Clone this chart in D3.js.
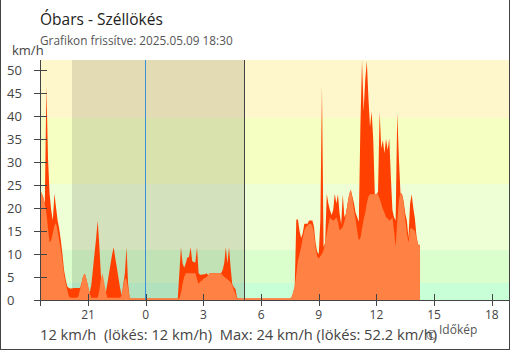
<!DOCTYPE html>
<html>
<head>
<meta charset="utf-8">
<script src="https://cdn.jsdelivr.net/npm/d3@7"></script>
<style>
  html, body { margin: 0; padding: 0; background: #fff; }
  svg { display: block; font-family: "Open Sans", "Noto Sans", sans-serif; }
</style>
</head>
<body>
<svg id="chart" width="510" height="350"></svg>
<script>
// Station and labels
const stationName = "Óbars";
const chartTitle = stationName + " - Széllökés";
const updatedText = "Grafikon frissítve: 2025.05.09 18:30";
const unitLabel = "km/h";
const creditText = "Időkép";

// Time frame (local wall-clock times kept as UTC values)
const windowStart = new Date(Date.UTC(2025, 4, 8, 18, 30));
const windowEnd = new Date(Date.UTC(2025, 4, 9, 19, 0));
const stepMinutes = 5;
const sunset = new Date(Date.UTC(2025, 4, 8, 20, 10));
const sunrise = new Date(Date.UTC(2025, 4, 9, 5, 7));
const midnight = new Date(Date.UTC(2025, 4, 9, 0, 0));

// Average wind speed, km/h, one value per 5 minutes from 18:30 (one row = one hour)
const avgKmh = [
  23.9, 23.2, 22.4, 21, 19, 15.5, 12.5, 13, 14.5, 16.2, 16.8, 15,
  13, 11, 8.5, 5.5, 3.8, 2.2, 0.8, 0.5, 0.5, 0.5, 0.5, 0.5,
  0.8, 2.3, 3.8, 5.3, 5.7, 4.5, 3, 1.5, 0.5, 0.5, 0.5, 0.5,
  0.5, 2, 4.5, 5.8, 4, 2, 0.5, 0.5, 0.5, 0.5, 0.5, 0.5,
  0.5, 0.5, 0.5, 1, 3, 4.8, 4.5, 2.5, 0.5, 0.3, 0.3, 0.3,
  0.3, 0.3, 0.3, 0.3, 0.3, 0.3, 0.3, 0.3, 0.3, 0.3, 0.3, 0.3,
  0.3, 0.3, 0.3, 0.3, 0.3, 0.3, 0.3, 0.3, 0.3, 0.3, 0.3, 0.3,
  0.3, 0.3, 0.3, 0.3, 1.5, 3.5, 5, 5.8, 5.8, 5.8, 5.8, 5.8,
  5.8, 5.8, 4.5, 3.5, 4, 4.2, 4.6, 4.8, 5, 5.4, 5.8, 5.8,
  5.8, 5.8, 5.8, 5.8, 5.8, 5.8, 5.4, 5, 4.8, 4.5, 4.2, 3.9,
  3.2, 2.2, 1.2, 0.3, 0.3, 0.3, 0.3, 0.3, 0.3, 0.3, 0.3, 0.3,
  0.3, 0.3, 0.3, 0.3, 0.3, 0.3, 0.3, 0.3, 0.3, 0.3, 0.3, 0.3,
  0.3, 0.3, 0.3, 0.3, 0.3, 0.3, 0.3, 0.3, 0.3, 0.3, 0.3, 0.3,
  0.3, 0.6, 1.5, 3, 5.7, 8.6, 10, 11.5, 13.5, 15.1, 15.9, 16.2,
  16.6, 16.6, 16.2, 14.5, 11.5, 9.5, 9, 9.5, 10, 10.8, 12.5, 14.4,
  16.5, 18, 17.5, 17.3, 17.5, 18, 17, 15.1, 15.5, 15.9, 17, 18.8,
  21, 23, 24, 22, 19.5, 17.5, 15, 13, 13.5, 15.5, 17.5, 19,
  21, 22.5, 23, 23, 23, 23, 23, 23, 22, 21, 19.8, 19,
  18, 17.7, 17.3, 17.5, 18, 15, 11.5, 17, 21.5, 23.3, 22.8, 21,
  17.5, 14.5, 12.5, 15.5, 15.6, 15.3, 15.1, 13.5, 12, 12
];

// Gusts, km/h, same timestamps
const gustKmh = [
  23.9, 23.2, 22.4, 21, 46.5, 30.8, 23.1, 19.5, 17.3, 23.1, 20.2, 17.3,
  15.5, 13, 10, 6.5, 4.5, 3, 2.6, 2.5, 2.5, 2.6, 2.6, 2.6,
  2.6, 2.6, 3.8, 5.3, 5.7, 4.5, 3, 1.5, 3.2, 6.6, 10, 13.3,
  17.3, 12, 5.5, 2, 0.5, 1.4, 3.5, 5.6, 7.8, 9.9, 11.5, 9.1,
  7, 4.8, 2.6, 1, 3.5, 5.8, 11.5, 3.5, 0.5, 0.3, 0.3, 0.3,
  0.3, 0.3, 0.3, 0.3, 0.3, 0.3, 0.3, 0.3, 0.3, 0.3, 0.3, 0.3,
  0.3, 0.3, 0.3, 0.3, 0.3, 0.3, 0.3, 0.3, 0.3, 0.3, 0.3, 0.3,
  0.3, 0.3, 0.3, 6, 11.5, 8, 7, 8, 9.3, 9.3, 11.5, 8.5,
  8.2, 8.2, 11.5, 5.8, 5.5, 5.5, 5.6, 5.6, 5.8, 5.4, 5.8, 5.8,
  5.8, 5.8, 5.8, 5.8, 5.8, 5.8, 6.5, 8, 11.5, 8, 11.5, 7,
  3.5, 2.8, 2.4, 0.5, 0.3, 0.3, 0.3, 0.3, 0.3, 0.3, 0.3, 0.3,
  0.3, 0.3, 0.3, 0.3, 0.3, 0.3, 0.3, 0.3, 0.3, 0.3, 0.3, 0.3,
  0.3, 0.3, 0.3, 0.3, 0.3, 0.3, 0.3, 0.3, 0.3, 0.3, 0.3, 0.3,
  0.3, 0.6, 1.5, 3, 17.5, 17.5, 15, 13.5, 14.5, 16.6, 16.6, 16.6,
  17.3, 17.3, 17.3, 16, 12.5, 10.5, 10, 17.3, 46.5, 11.5, 12.5, 23.1,
  21, 19.5, 18.5, 19.5, 23.1, 21, 23, 18.8, 16.5, 23, 18, 18.8,
  21, 23, 24, 22.5, 21, 19, 18, 17, 38, 52.2, 41, 47.8,
  52, 44, 37.6, 41, 35, 23, 23, 23.5, 40.9, 33, 34.8, 31.9,
  35, 32.6, 35.1, 26.8, 19.5, 18, 17.3, 40.8, 31, 23.3, 23, 21.5,
  18.8, 17.3, 13.5, 21, 23, 20, 17.7, 14, 12, 12
];

// Background bands (km/h limits) and their fills
const bandLimits = [0, 3.6, 10.8, 25.2, 39.6, 52.2];
const bandColors = ["#c8ffd6", "#daffcc", "#eeffd6", "#f5ffc2", "#fff7cc"];

const yTickValues = [0, 5, 10, 15, 20, 25, 30, 35, 40, 45, 50];

const colors = {
  avg: "#ff8244",
  gust: "#ff4000",
  axis: "#444",
  text: "#444",
  midnight: "#3a90d8"
};

// Layout
const W = 510, H = 350;
const plot = { left: 40, right: 509, top: 60, bottom: 300 };

const svg = d3.select("#chart");

const x = d3.scaleUtc().domain([windowStart, windowEnd]).range([plot.left, 511]);
const y = d3.scaleLinear().domain([0, d3.max(gustKmh)]).range([plot.bottom, plot.top]);

const series = avgKmh.map((v, i) => ({
  t: new Date(windowStart.getTime() + i * stepMinutes * 60000),
  avg: v,
  gust: gustKmh[i]
}));

// Clip everything inside the plot rectangle
svg.append("defs").append("clipPath").attr("id", "plotClip")
  .append("rect")
  .attr("x", plot.left).attr("y", plot.top)
  .attr("width", plot.right - plot.left).attr("height", plot.bottom - plot.top);

const inner = svg.append("g").attr("clip-path", "url(#plotClip)");

// Wind intensity bands
inner.selectAll("rect.band")
  .data(bandColors)
  .join("rect")
  .attr("class", "band")
  .attr("x", plot.left)
  .attr("width", plot.right - plot.left)
  .attr("y", (c, i) => y(bandLimits[i + 1]))
  .attr("height", (c, i) => y(bandLimits[i]) - y(bandLimits[i + 1]))
  .attr("fill", c => c)
  .attr("shape-rendering", "crispEdges");

// Night shading
inner.append("rect")
  .attr("x", x(sunset))
  .attr("width", x(sunrise) - x(sunset))
  .attr("y", plot.top)
  .attr("height", plot.bottom - plot.top)
  .attr("fill", "#000")
  .attr("fill-opacity", 0.115)
  .attr("shape-rendering", "crispEdges");

// Gust area behind, average area in front
const gustArea = d3.area()
  .x(d => x(d.t))
  .y0(y(0))
  .y1(d => y(d.gust));
const avgArea = d3.area()
  .x(d => x(d.t))
  .y0(y(0))
  .y1(d => y(d.avg));

inner.append("path").datum(series)
  .attr("d", gustArea)
  .attr("fill", colors.gust);
inner.append("path").datum(series)
  .attr("d", avgArea)
  .attr("fill", colors.avg);

// Midnight and sunrise markers
svg.append("line")
  .attr("x1", Math.floor(x(midnight)) + 0.5).attr("x2", Math.floor(x(midnight)) + 0.5)
  .attr("y1", plot.top).attr("y2", plot.bottom)
  .attr("stroke", colors.midnight).attr("stroke-width", 1);
svg.append("line")
  .attr("x1", Math.floor(x(sunrise)) + 0.5).attr("x2", Math.floor(x(sunrise)) + 0.5)
  .attr("y1", plot.top).attr("y2", plot.bottom)
  .attr("stroke", colors.axis).attr("stroke-width", 1);

// Axes
const axes = svg.append("g").attr("stroke", colors.axis).attr("stroke-width", 1)
  .attr("shape-rendering", "crispEdges");
axes.append("line")
  .attr("x1", plot.left + 0.5).attr("x2", plot.left + 0.5)
  .attr("y1", plot.top).attr("y2", plot.bottom + 1);
axes.append("line")
  .attr("x1", plot.left).attr("x2", plot.right)
  .attr("y1", plot.bottom + 0.5).attr("y2", plot.bottom + 0.5);

// y ticks and labels
axes.selectAll("line.yt")
  .data(yTickValues)
  .join("line")
  .attr("class", "yt")
  .attr("x1", 34).attr("x2", 47)
  .attr("y1", d => Math.round(y(d)) + 0.5)
  .attr("y2", d => Math.round(y(d)) + 0.5);

svg.selectAll("text.yl")
  .data(yTickValues)
  .join("text")
  .attr("class", "yl")
  .attr("x", 7)
  .attr("y", d => y(d) + 4.5)
  .attr("font-size", 13)
  .attr("fill", colors.text)
  .text(d => d);

// x ticks every 3 hours plus the window start
const xTicks = x.ticks(d3.utcHour.every(3));
const xTickMarks = [windowStart].concat(xTicks);
axes.selectAll("line.xt")
  .data(xTickMarks)
  .join("line")
  .attr("class", "xt")
  .attr("x1", d => Math.round(x(d)) + 0.5)
  .attr("x2", d => Math.round(x(d)) + 0.5)
  .attr("y1", 294).attr("y2", 306);

const hourFmt = d3.utcFormat("%-H");
svg.selectAll("text.xl")
  .data(xTicks)
  .join("text")
  .attr("class", "xl")
  .attr("x", d => x(d))
  .attr("y", 319)
  .attr("text-anchor", "middle")
  .attr("font-size", 12)
  .attr("fill", colors.text)
  .text(d => hourFmt(d));

// Unit label
svg.append("text")
  .attr("x", 12).attr("y", 55)
  .attr("font-size", 13)
  .attr("fill", colors.text)
  .text(unitLabel);

// Title and update line
svg.append("text")
  .attr("x", 40).attr("y", 25)
  .attr("font-size", 15.5)
  .attr("fill", "#222")
  .text(chartTitle);
svg.append("text")
  .attr("x", 40).attr("y", 45)
  .attr("font-size", 11.8)
  .attr("fill", "#555")
  .text(updatedText);

// Summary line: latest values and maxima
const fmt = d3.format(".3~r");
const lastAvg = avgKmh[avgKmh.length - 1];
const lastGust = gustKmh[gustKmh.length - 1];
const maxAvg = d3.max(avgKmh);
const maxGust = d3.max(gustKmh);
svg.append("text")
  .attr("x", 40).attr("y", 340)
  .attr("font-size", 14.7)
  .attr("fill", colors.text)
  .style("white-space", "pre")
  .text(`${fmt(lastAvg)} km/h  (lökés: ${fmt(lastGust)} km/h)  Max: ${fmt(maxAvg)} km/h (lökés: ${fmt(maxGust)} km/h)`);

// Credit
svg.append("text")
  .attr("x", 426).attr("y", 340)
  .attr("font-size", 13)
  .attr("fill", "#555")
  .text("©");
svg.append("text")
  .attr("x", 439).attr("y", 334)
  .attr("font-size", 12)
  .attr("fill", "#555")
  .text(creditText);

// Outer frame
const frame = svg.append("g").attr("stroke", colors.axis).attr("stroke-width", 1)
  .attr("shape-rendering", "crispEdges");
frame.append("line").attr("x1", 0.5).attr("x2", 0.5).attr("y1", 0).attr("y2", H);
frame.append("line").attr("x1", W - 0.5).attr("x2", W - 0.5).attr("y1", 0).attr("y2", H);
frame.append("line").attr("x1", 0).attr("x2", W).attr("y1", H - 0.5).attr("y2", H - 0.5);
</script>
</body>
</html>
